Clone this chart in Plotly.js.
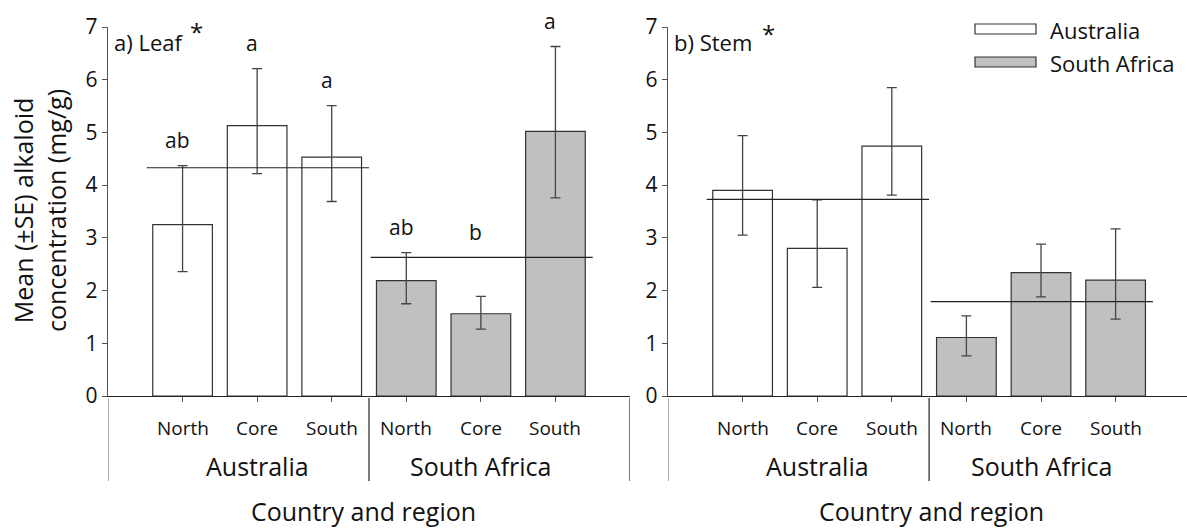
<!DOCTYPE html>
<html>
<head>
<meta charset="utf-8">
<script src="https://cdn.plot.ly/plotly-3.0.1.min.js"></script>
<style>html,body{margin:0;padding:0;background:#fff;}#chart{width:1187px;height:529px;}</style>
</head>
<body>
<div id="chart"></div>
<script>
// ---------- data ----------
var regions = ['North', 'Core', 'South'];
var countries = ['Australia', 'South Africa'];

// a) Leaf
var leafAusMean = [3.25, 5.13, 4.53];
var leafAusUpper = [4.37, 6.21, 5.51];
var leafAusLower = [2.36, 4.22, 3.69];
var leafSAMean = [2.19, 1.56, 5.02];
var leafSAUpper = [2.72, 1.89, 6.63];
var leafSALower = [1.75, 1.27, 3.76];
var leafLetters = ['ab', 'a', 'a', 'ab', 'b', 'a'];
var leafCountryMeans = [4.33, 2.63];

// b) Stem
var stemAusMean = [3.90, 2.80, 4.74];
var stemAusUpper = [4.94, 3.72, 5.85];
var stemAusLower = [3.05, 2.06, 3.81];
var stemSAMean = [1.11, 2.34, 2.20];
var stemSAUpper = [1.52, 2.88, 3.17];
var stemSALower = [0.76, 1.88, 1.46];
var stemCountryMeans = [3.73, 1.79];

var panelLabels = ['a) Leaf', 'b) Stem'];
var xTitle = 'Country and region';
var yTitle = 'Mean (±SE) alkaloid<br>concentration (mg/g)';
var yTicks = [0, 1, 2, 3, 4, 5, 6, 7];

// ---------- styling ----------
var FONT = '"Open Sans", Lato, sans-serif';
var TXT = '#111111';
var W = 1187, H = 529;
var fillColors = ['#ffffff', '#c0c0c0'];
var lineCol = '#333333';
var errCol = '#444444';

function px(x) { return x / W; }
function py(y) { return (H - y) / H; }

function positions(countryIdx) {
  return regions.map(function (r, i) { return countryIdx * regions.length + i + 1; });
}
function diff(a, b) { return a.map(function (v, i) { return Math.abs(v - b[i]); }); }

function barTrace(countryIdx, mean, upper, lower, xa, ya) {
  return {
    type: 'bar',
    x: positions(countryIdx),
    y: mean,
    width: 0.8,
    xaxis: xa, yaxis: ya,
    name: countries[countryIdx],
    showlegend: false,
    marker: { color: fillColors[countryIdx], line: { color: lineCol, width: 1.2 } },
    error_y: {
      type: 'data', symmetric: false,
      array: diff(upper, mean), arrayminus: diff(mean, lower),
      color: errCol, thickness: 1.3, width: 5
    },
    hoverinfo: 'x+y'
  };
}

var data = [
  barTrace(0, leafAusMean, leafAusUpper, leafAusLower, 'x', 'y'),
  barTrace(1, leafSAMean, leafSAUpper, leafSALower, 'x', 'y'),
  barTrace(0, stemAusMean, stemAusUpper, stemAusLower, 'x2', 'y2'),
  barTrace(1, stemSAMean, stemSAUpper, stemSALower, 'x2', 'y2')
];

var yDomain = [py(396), py(27)];
function xAxis(domain, range, anchor) {
  return {
    domain: domain, range: range, anchor: anchor,
    showline: true, linecolor: '#222', linewidth: 1.2,
    ticks: 'outside', ticklen: 5, tickcolor: '#555', tickwidth: 1,
    tickvals: [1, 2, 3, 4, 5, 6], showticklabels: false,
    showgrid: false, zeroline: false, fixedrange: true
  };
}
function yAxis(anchor) {
  return {
    domain: yDomain, range: [0, 7], anchor: anchor,
    showline: true, linecolor: '#555', linewidth: 1.2,
    ticks: 'outside', ticklen: 5, tickcolor: '#555',
    tickvals: yTicks, ticktext: yTicks.map(String),
    tickfont: { family: FONT, size: 21, color: TXT },
    showgrid: false, zeroline: false, fixedrange: true
  };
}

var shapes = [];
var annotations = [];

function panelDecor(xr, yr, countryMeans, xMax, titleX) {
  // country mean lines
  var spans = [[0.52, 3.5], [3.52, 6.5]];
  countryMeans.forEach(function (m, i) {
    shapes.push({ type: 'line', xref: xr, yref: yr, x0: spans[i][0], x1: spans[i][1], y0: m, y1: m,
      line: { color: '#222', width: 1.2 } });
  });
  // group separators
  [0, 3.5, 7].forEach(function (xv) {
    if (xv > xMax) return;
    shapes.push({ type: 'line', xref: xr, yref: 'paper', x0: xv, x1: xv, y0: py(398), y1: py(481),
      line: { color: xv === 0 ? '#777' : '#222', width: 1.2 } });
  });
  // region labels & country labels
  countries.forEach(function (c, ci) {
    positions(ci).forEach(function (p, i) {
      annotations.push({ xref: xr, yref: 'paper', x: p, y: py(428), text: regions[i], showarrow: false,
        xanchor: 'center', yanchor: 'middle', font: { family: FONT, size: 19, color: TXT } });
    });
    annotations.push({ xref: xr, yref: 'paper', x: ci * 3 + 2, y: py(466), text: c, showarrow: false,
      xanchor: 'center', yanchor: 'middle', font: { family: FONT, size: 25, color: TXT } });
  });
  annotations.push({ xref: xr, yref: 'paper', x: titleX, y: py(511), text: xTitle, showarrow: false,
    xanchor: 'center', yanchor: 'middle', font: { family: FONT, size: 25, color: TXT } });
}

panelDecor('x', 'y', leafCountryMeans, 7, 3.42);
panelDecor('x2', 'y2', stemCountryMeans, 6.957, 3.53);

// significance letters (leaf)
var leafUpperAll = leafAusUpper.concat(leafSAUpper);
var letterShift = [26, 26, 26, 26, 64, 26];
leafLetters.forEach(function (t, i) {
  annotations.push({ xref: 'x', yref: 'y', x: i + 1, y: leafUpperAll[i], yshift: letterShift[i], xshift: -5,
    text: t, showarrow: false, xanchor: 'center', yanchor: 'middle',
    font: { family: FONT, size: 21, color: TXT } });
});

// panel labels
annotations.push({ xref: 'paper', yref: 'paper', x: px(112), y: py(42), text: panelLabels[0], showarrow: false,
  xanchor: 'left', yanchor: 'middle', font: { family: FONT, size: 22, color: TXT } });
annotations.push({ xref: 'paper', yref: 'paper', x: px(196), y: py(31), text: '*', showarrow: false,
  xanchor: 'center', yanchor: 'middle', font: { family: FONT, size: 24, color: TXT } });
annotations.push({ xref: 'paper', yref: 'paper', x: px(672), y: py(42), text: panelLabels[1], showarrow: false,
  xanchor: 'left', yanchor: 'middle', font: { family: FONT, size: 22, color: TXT } });
annotations.push({ xref: 'paper', yref: 'paper', x: px(768), y: py(34), text: '*', showarrow: false,
  xanchor: 'center', yanchor: 'middle', font: { family: FONT, size: 24, color: TXT } });

// y-axis title
annotations.push({ xref: 'paper', yref: 'paper', x: px(39), y: py(211), textangle: -90,
  text: yTitle, showarrow: false, xanchor: 'center', yanchor: 'middle',
  font: { family: FONT, size: 25, color: TXT } });

// legend (drawn)
var legendRows = [[24, 34, 30], [57, 67, 63]];
countries.forEach(function (c, i) {
  shapes.push({ type: 'rect', xref: 'paper', yref: 'paper', x0: px(975), x1: px(1036),
    y0: py(legendRows[i][1]), y1: py(legendRows[i][0]), fillcolor: fillColors[i], line: { color: lineCol, width: 1.2 } });
  annotations.push({ xref: 'paper', yref: 'paper', x: px(1048), y: py(legendRows[i][2]), text: c, showarrow: false,
    xanchor: 'left', yanchor: 'middle', font: { family: FONT, size: 22, color: TXT } });
});

var layout = {
  width: W, height: H,
  margin: { l: 0, r: 0, t: 0, b: 0, autoexpand: false },
  paper_bgcolor: '#fff', plot_bgcolor: 'rgba(0,0,0,0)',
  showlegend: false,
  xaxis: xAxis([px(108), px(630)], [0, 7], 'y'),
  yaxis: yAxis('x'),
  xaxis2: xAxis([px(668), 1], [0, 6.957], 'y2'),
  yaxis2: yAxis('x2'),
  shapes: shapes,
  annotations: annotations,
  font: { family: FONT, color: TXT }
};

Plotly.newPlot('chart', data, layout, { displayModeBar: false, staticPlot: true });
</script>
</body>
</html>
